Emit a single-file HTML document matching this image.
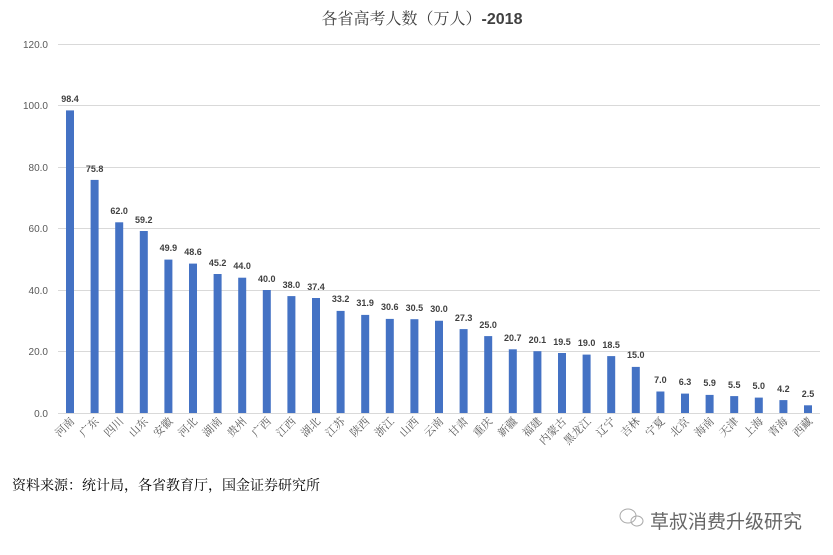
<!DOCTYPE html>
<html><head><meta charset="utf-8"><style>
html,body{margin:0;padding:0;background:#fff;width:833px;height:555px;overflow:hidden}
svg{display:block}
.ax{font-family:"Liberation Sans",sans-serif;font-size:10px;fill:#595959;text-anchor:end}
.v{font-family:"Liberation Sans",sans-serif;font-size:9px;font-weight:bold;fill:#404040;text-anchor:middle}
.c{font-family:"Liberation Serif","Noto Serif CJK SC",serif;font-size:11px;fill:#595959;text-anchor:end}
</style></head><body>
<svg width="833" height="555" xmlns="http://www.w3.org/2000/svg">
<text x="422" y="24" font-family="'Liberation Sans','Noto Serif CJK SC',serif" font-size="16" fill="#404040" text-anchor="middle">各省高考人数（万人）<tspan font-weight="bold" font-family="'Liberation Sans',sans-serif">-2018</tspan></text>
<g stroke="#d9d9d9" stroke-width="1">
<line x1="58" x2="820" y1="44.5" y2="44.5"/><line x1="58" x2="820" y1="105.5" y2="105.5"/>
<line x1="58" x2="820" y1="167.5" y2="167.5"/><line x1="58" x2="820" y1="228.5" y2="228.5"/>
<line x1="58" x2="820" y1="290.5" y2="290.5"/><line x1="58" x2="820" y1="351.5" y2="351.5"/>
<line x1="58" x2="820" y1="413.5" y2="413.5"/>
</g>
<g class="ax">
<text x="48" y="48">120.0</text><text x="48" y="109">100.0</text><text x="48" y="171">80.0</text>
<text x="48" y="232">60.0</text><text x="48" y="294">40.0</text><text x="48" y="355">20.0</text><text x="48" y="417">0.0</text>
</g>
<g fill="#4472c4">
<rect x="66" y="110.4" width="8" height="302.6"/>
<rect x="90.6" y="179.9" width="8" height="233.1"/>
<rect x="115.2" y="222.3" width="8" height="190.7"/>
<rect x="139.8" y="231" width="8" height="182"/>
<rect x="164.4" y="259.6" width="8" height="153.4"/>
<rect x="189" y="263.6" width="8" height="149.4"/>
<rect x="213.6" y="274" width="8" height="139"/>
<rect x="238.2" y="277.7" width="8" height="135.3"/>
<rect x="262.8" y="290" width="8" height="123"/>
<rect x="287.4" y="296.1" width="8" height="116.9"/>
<rect x="312" y="298" width="8" height="115"/>
<rect x="336.6" y="310.9" width="8" height="102.1"/>
<rect x="361.2" y="314.9" width="8" height="98.1"/>
<rect x="385.8" y="318.9" width="8" height="94.1"/>
<rect x="410.4" y="319.2" width="8" height="93.8"/>
<rect x="435" y="320.75" width="8" height="92.25"/>
<rect x="459.6" y="329.1" width="8" height="83.9"/>
<rect x="484.2" y="336.1" width="8" height="76.9"/>
<rect x="508.8" y="349.3" width="8" height="63.7"/>
<rect x="533.4" y="351.2" width="8" height="61.8"/>
<rect x="558" y="353" width="8" height="60"/>
<rect x="582.6" y="354.6" width="8" height="58.4"/>
<rect x="607.2" y="356.1" width="8" height="56.9"/>
<rect x="631.8" y="366.9" width="8" height="46.1"/>
<rect x="656.4" y="391.5" width="8" height="21.5"/>
<rect x="681" y="393.6" width="8" height="19.4"/>
<rect x="705.6" y="394.9" width="8" height="18.1"/>
<rect x="730.2" y="396.1" width="8" height="16.9"/>
<rect x="754.8" y="397.6" width="8" height="15.4"/>
<rect x="779.4" y="400.1" width="8" height="12.9"/>
<rect x="804" y="405.3" width="8" height="7.7"/>
</g>
<g class="v">
<text x="70" y="102">98.4</text><text x="94.6" y="172">75.8</text><text x="119.2" y="214">62.0</text>
<text x="143.8" y="223">59.2</text><text x="168.4" y="251">49.9</text><text x="193" y="255">48.6</text>
<text x="217.6" y="266">45.2</text><text x="242.2" y="269">44.0</text><text x="266.8" y="282">40.0</text>
<text x="291.4" y="288">38.0</text><text x="316" y="290">37.4</text><text x="340.6" y="302">33.2</text>
<text x="365.2" y="306">31.9</text><text x="389.8" y="310">30.6</text><text x="414.4" y="311">30.5</text>
<text x="439" y="312">30.0</text><text x="463.6" y="321">27.3</text><text x="488.2" y="328">25.0</text>
<text x="512.8" y="341">20.7</text><text x="537.4" y="343">20.1</text><text x="562" y="345">19.5</text>
<text x="586.6" y="346">19.0</text><text x="611.2" y="348">18.5</text><text x="635.8" y="358">15.0</text>
<text x="660.4" y="383">7.0</text><text x="685" y="385">6.3</text><text x="709.6" y="386">5.9</text>
<text x="734.2" y="388">5.5</text><text x="758.8" y="389">5.0</text><text x="783.4" y="392">4.2</text>
<text x="808" y="397">2.5</text>
</g>
<g class="c">
<text transform="translate(75,422) rotate(-45)">河南</text>
<text transform="translate(99.6,422) rotate(-45)">广东</text>
<text transform="translate(124.2,422) rotate(-45)">四川</text>
<text transform="translate(148.8,422) rotate(-45)">山东</text>
<text transform="translate(173.4,422) rotate(-45)">安徽</text>
<text transform="translate(198,422) rotate(-45)">河北</text>
<text transform="translate(222.6,422) rotate(-45)">湖南</text>
<text transform="translate(247.2,422) rotate(-45)">贵州</text>
<text transform="translate(271.8,422) rotate(-45)">广西</text>
<text transform="translate(296.4,422) rotate(-45)">江西</text>
<text transform="translate(321,422) rotate(-45)">湖北</text>
<text transform="translate(345.6,422) rotate(-45)">江苏</text>
<text transform="translate(370.2,422) rotate(-45)">陕西</text>
<text transform="translate(394.8,422) rotate(-45)">浙江</text>
<text transform="translate(419.4,422) rotate(-45)">山西</text>
<text transform="translate(444,422) rotate(-45)">云南</text>
<text transform="translate(468.6,422) rotate(-45)">甘肃</text>
<text transform="translate(493.2,422) rotate(-45)">重庆</text>
<text transform="translate(517.8,422) rotate(-45)">新疆</text>
<text transform="translate(542.4,422) rotate(-45)">福建</text>
<text transform="translate(567,422) rotate(-45)">内蒙古</text>
<text transform="translate(591.6,422) rotate(-45)">黑龙江</text>
<text transform="translate(616.2,422) rotate(-45)">辽宁</text>
<text transform="translate(640.8,422) rotate(-45)">吉林</text>
<text transform="translate(665.4,422) rotate(-45)">宁夏</text>
<text transform="translate(690,422) rotate(-45)">北京</text>
<text transform="translate(714.6,422) rotate(-45)">海南</text>
<text transform="translate(739.2,422) rotate(-45)">天津</text>
<text transform="translate(763.8,422) rotate(-45)">上海</text>
<text transform="translate(788.4,422) rotate(-45)">青海</text>
<text transform="translate(813,422) rotate(-45)">西藏</text>
</g>
<text x="12" y="490" font-family="'Liberation Serif','Noto Serif CJK SC',serif" font-size="14" fill="#000">资料来源：统计局，各省教育厅，国金证券研究所</text>
<g fill="none" stroke="#aaa" stroke-width="1">
<ellipse cx="628" cy="516" rx="8" ry="7"/><ellipse cx="637" cy="521" rx="6" ry="5"/>
</g>
<text x="650" y="528" font-family="'Liberation Sans','Noto Sans CJK SC',sans-serif" font-size="19" fill="#666">草叔消费升级研究</text>
</svg>
</body></html>
